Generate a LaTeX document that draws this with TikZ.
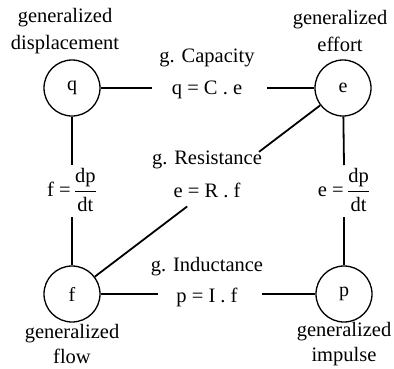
\documentclass[tikz,border=0pt]{standalone}
\usepackage{amsmath}
\usepackage{fontspec}
\setmainfont{Liberation Serif}
\usetikzlibrary{calc}
\begin{document}
\begin{tikzpicture}[x=1pt,y=-1pt,
  var/.style={draw,circle,line width=1.3pt,minimum size=56pt,inner sep=0pt,font=\fontsize{20}{26}\selectfont},
  txt/.style={align=center,inner sep=0pt,font=\fontsize{20.5}{27}\selectfont},
  btxt/.style={align=center,inner sep=0pt,font=\fontsize{20.5}{25}\selectfont},
  link/.style={line width=1.8pt}]
\useasboundingbox (0,0) rectangle (394,368);
\node[var] (q) at (72,88) {q};
\node[var] (e) at (343,88) {e};
\node[var] (f) at (72,294) {f};
\node[var] (p) at (344,294) {p};
\node[txt] (lq) at (65,31) {generalized\\displacement};
\node[txt] (le) at (340,31) {generalized\\effort};
\node[btxt] (lf) at (72,344) {generalized\\flow};
\node[btxt] (lp) at (344,344) {generalized\\impulse};
\node[txt] (cap) at (207,58) {g. Capacity};
\node[txt] (capeq) at (207,90) {q = C . e};
\node[txt] (res) at (207,160) {g. Resistance};
\node[txt] (reseq) at (207,190) {e = R . f};
\node[txt] (ind) at (207,267) {g. Inductance};
\node[txt] (indeq) at (207,297) {p = I . f};
\node[txt] (fq) at (72,190) {f =\,$\dfrac{\text{dp}}{\text{dt}}$};
\node[txt] (fe) at (344,190) {e =\,$\dfrac{\text{dp}}{\text{dt}}$};
\coordinate (c1) at (152,88);
\coordinate (c2) at (267,88);
\coordinate (i1) at (158,294);
\coordinate (i2) at (262,294);
\coordinate (v1) at (72,165);
\coordinate (v2) at (72,217);
\coordinate (w1) at (344,165);
\coordinate (w2) at (344,217);
\coordinate (d1) at ($(f)!0.425!(e)$);
\coordinate (d2) at ($(f)!0.69!(e)$);
\draw[link] (q) -- (c1);
\draw[link] (c2) -- (e);
\draw[link] (f) -- (i1);
\draw[link] (i2) -- (p);
\draw[link] (q) -- (v1);
\draw[link] (v2) -- (f);
\draw[link] (e) -- (w1);
\draw[link] (w2) -- (p);
\draw[link] (f) -- (d1);
\draw[link] (d2) -- (e);
\end{tikzpicture}
\end{document}
